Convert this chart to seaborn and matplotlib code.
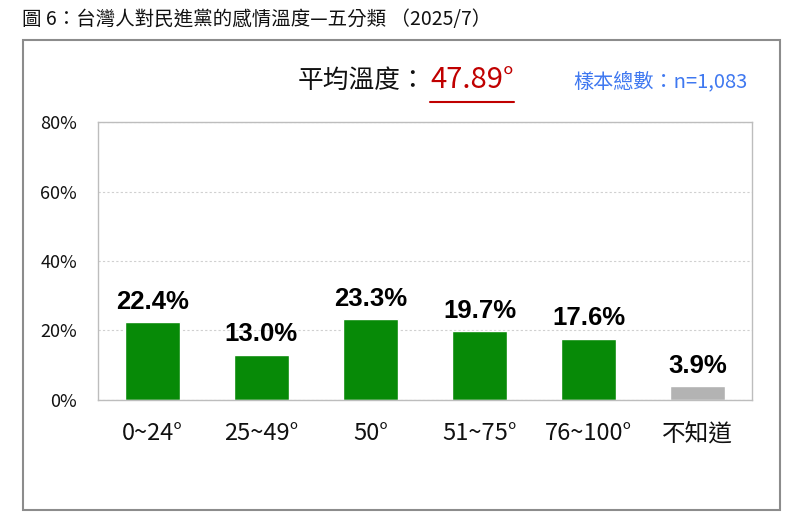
import matplotlib
matplotlib.use("Agg")
import matplotlib.pyplot as plt
import seaborn as sns
import pandas as pd
from matplotlib.patches import Rectangle
from matplotlib.lines import Line2D

# --- Datos ---
categorias = ["0~24°", "25~49°", "50°", "51~75°", "76~100°", "不知道"]
porcentajes = [22.4, 13.0, 23.3, 19.7, 17.6, 3.9]
colores = ["#078a07", "#078a07", "#078a07", "#078a07", "#078a07", "#b3b3b3"]
y_ticks = [0, 20, 40, 60, 80]
titulo = "圖 6：台灣人對民進黨的感情溫度—五分類 （2025/7）"
promedio = "47.89°"
muestra = "樣本總數：n=1,083"

sns.set_style("white")
plt.rcParams["font.family"] = ["Noto Sans CJK TC", "DejaVu Sans"]
plt.rcParams["text.color"] = "black"

df = pd.DataFrame({"cat": categorias, "pct": porcentajes})

fig = plt.figure(figsize=(8.08, 5.31), dpi=100)
ax = fig.add_axes([0.121, 0.247, 0.810, 0.523])

sns.barplot(data=df, x="cat", y="pct", hue="cat", palette=colores,
            width=0.5, legend=False, ax=ax, saturation=1)

# etiquetas de valor
for cont in ax.containers:
    ax.bar_label(cont, fmt="%.1f%%", padding=6, fontsize=18.5, color="black",
                 fontweight="bold", family="Liberation Sans")

ax.set_xlim(-0.5, 5.5)
ax.set_ylim(0, 80)
ax.set_yticks(y_ticks)
ax.set_yticklabels([f"{v}%" for v in y_ticks], fontsize=13, color="#111111")
ax.set_xlabel(""); ax.set_ylabel("")
ax.tick_params(axis="y", length=0, pad=15)
ax.tick_params(axis="x", which="major", length=0, pad=16, labelsize=17)
ax.set_xticks([0.5, 1.5, 2.5, 3.5, 4.5], minor=True)
ax.tick_params(axis="x", which="minor", direction="in", length=6,
               color="#bbbbbb", width=1)
for lab in ax.get_xticklabels():
    lab.set_color("#111111")

ax.yaxis.grid(True, linestyle=(0, (2, 2)), color="#d0d0d0", linewidth=0.8)
ax.set_axisbelow(True)
for s in ax.spines.values():
    s.set_visible(True)
    s.set_color("#bdbdbd")
    s.set_linewidth(1)

# caja exterior
fig.patches.append(Rectangle((23 / 808, 1 - 510 / 531), (780 - 23) / 808, (510 - 40) / 531,
                             transform=fig.transFigure, fill=False,
                             edgecolor="#8c8c8c", linewidth=1.5))

# título
fig.text(22 / 808, 1 - 20 / 531, titulo, fontsize=14, va="center", ha="left",
         color="#111111")

# promedio
fig.text(298 / 808, 1 - 81 / 531, "平均溫度：", fontsize=18.5, va="center",
         ha="left", color="#111111", fontweight="medium")
fig.text(430 / 808, 1 - 80 / 531, promedio, fontsize=21, va="center",
         ha="left", color="#c00000")
fig.lines.append(Line2D([430 / 808, 514 / 808], [1 - 102 / 531, 1 - 102 / 531],
                        transform=fig.transFigure, color="#c00000", linewidth=1.5))
fig.text(748 / 808, 1 - 82 / 531, muestra, fontsize=14.5, va="center",
         ha="right", color="#3f78f0")

plt.savefig("out.png", dpi=100)
plt.close()
